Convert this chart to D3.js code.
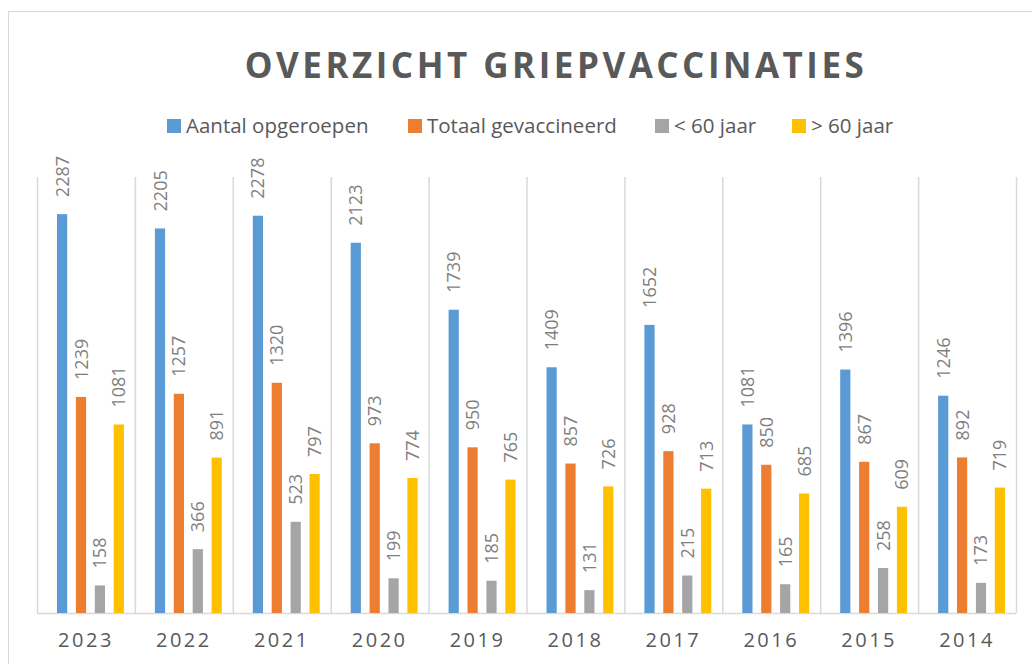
<!DOCTYPE html>
<html>
<head>
<meta charset="utf-8">
<script src="https://cdn.jsdelivr.net/npm/d3@7"></script>
<style>
  body { margin: 0; background: #fff; }
  text { font-family: "Open Sans", sans-serif; }
</style>
</head>
<body>
<div id="chart"></div>
<script>
const years = ['2023', '2022', '2021', '2020', '2019', '2018', '2017', '2016', '2015', '2014'];
const seriesNames = ['Aantal opgeroepen', 'Totaal gevaccineerd', '< 60 jaar', '> 60 jaar'];
const aantalOpgeroepen = [2287, 2205, 2278, 2123, 1739, 1409, 1652, 1081, 1396, 1246];
const totaalGevaccineerd = [1239, 1257, 1320, 973, 950, 857, 928, 850, 867, 892];
const onder60 = [158, 366, 523, 199, 185, 131, 215, 165, 258, 173];
const boven60 = [1081, 891, 797, 774, 765, 726, 713, 685, 609, 719];
const seriesColors = ['#5B9BD5', '#ED7D31', '#A5A5A5', '#FFC000'];

const width = 1032, height = 664;
const margin = { top: 177, right: 16, bottom: 51, left: 37 };
const plotW = width - margin.left - margin.right;
const plotH = height - margin.top - margin.bottom;

const allSeries = [aantalOpgeroepen, totaalGevaccineerd, onder60, boven60];

const svg = d3.select('#chart')
    .append('svg')
    .attr('width', width)
    .attr('height', height);

// outer chart border
svg.append('rect')
    .attr('x', 8.5).attr('y', 11.5)
    .attr('width', width + 20).attr('height', height + 20)
    .attr('fill', 'none')
    .attr('stroke', '#d9d9d9');

svg.append('text')
    .attr('x', 556)
    .attr('y', 78)
    .attr('text-anchor', 'middle')
    .style('font-size', '35px')
    .style('font-weight', 'bold')
    .style('letter-spacing', '3.5px')
    .attr('fill', '#595959')
    .text('OVERZICHT GRIEPVACCINATIES');

// legend
const legendX = [167, 408, 655, 792];
const legend = svg.append('g');
seriesNames.forEach((name, i) => {
    const g = legend.append('g').attr('transform', `translate(${legendX[i]},119)`);
    g.append('rect').attr('width', 14).attr('height', 14).attr('fill', seriesColors[i]);
    g.append('text')
        .attr('x', 19).attr('y', 14)
        .style('font-size', '20.5px')
        .attr('fill', '#595959')
        .text(name);
});

const g = svg.append('g').attr('transform', `translate(${margin.left},${margin.top})`);

const x = d3.scaleBand().domain(years).range([0, plotW]);
const x1 = d3.scaleBand().domain(d3.range(4)).range([20, x.bandwidth() - 11]).paddingInner(0.46);
const y = d3.scaleLinear().domain([0, 2500]).range([plotH, 0]);

// vertical category separators
g.selectAll('.sep')
    .data(d3.range(years.length + 1))
    .enter()
    .append('line')
    .attr('x1', i => i * x.step() + 0.5)
    .attr('x2', i => i * x.step() + 0.5)
    .attr('y1', 0)
    .attr('y2', plotH)
    .attr('stroke', '#d9d9d9')
    .attr('stroke-width', 1.5);

g.append('line')
    .attr('x1', 0).attr('x2', plotW)
    .attr('y1', plotH + 0.5).attr('y2', plotH + 0.5)
    .attr('stroke', '#d9d9d9')
    .attr('stroke-width', 1.5);

allSeries.forEach((values, s) => {
    g.selectAll('.bar' + s)
        .data(values)
        .enter()
        .append('rect')
        .attr('x', (d, i) => x(years[i]) + x1(s))
        .attr('y', d => y(d))
        .attr('width', x1.bandwidth())
        .attr('height', d => plotH - y(d))
        .attr('fill', seriesColors[s]);

    g.selectAll('.lbl' + s)
        .data(values)
        .enter()
        .append('text')
        .attr('transform', (d, i) => `translate(${x(years[i]) + x1(s) + x1.bandwidth() / 2 + 6.5},${y(d) - 17}) rotate(-90)`)
        .style('font-size', '18px')
        .attr('fill', '#7f7f7f')
        .text(d => d);
});

const xAxis = g.append('g')
    .attr('transform', `translate(0,${plotH})`)
    .call(d3.axisBottom(x).tickSize(0).tickPadding(20));
xAxis.select('.domain').remove();
xAxis.selectAll('text')
    .style('font-family', '"Open Sans", sans-serif')
    .style('font-size', '20px')
    .style('letter-spacing', '2.5px')
    .attr('fill', '#595959');
</script>
</body>
</html>
